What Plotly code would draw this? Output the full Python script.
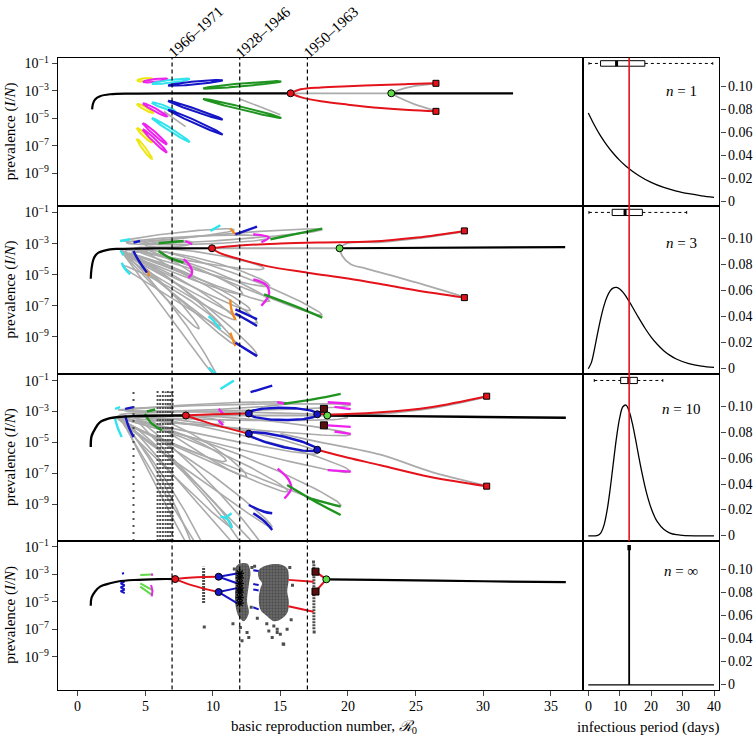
import numpy as np
import plotly.graph_objects as go

W, H = 755, 739
SERIF = "Liberation Serif, DejaVu Serif, serif"

RED = "#e4131b"; DARKRED = "#5a0e0e"; BLUE = "#1515c8"; GREEN = "#1f941f"
LIGHTGREEN = "#5edb45"; CYAN = "#30e3ec"; MAGENTA = "#ee22ee"; YELLOW = "#ede714"
ORANGE = "#f0891f"; GRAY = "#ababab"; POINTS = "#4e4e4e"

# ---------------- axes / labels ----------------
R0_RANGE = [-1.43, 37.39]
DAY_RANGE = [-1.59, 41.68]
LOG_RANGE = [-11.4, -0.57]
DENS_RANGE = [-0.004, 0.125]
R0_TICKS = [0, 5, 10, 15, 20, 25, 30, 35]
DAY_TICKS = [0, 10, 20, 30, 40]
PREV_TICK_EXP = [-1, -3, -5, -7, -9]
DENS_TICKS = [0, 0.02, 0.04, 0.06, 0.08, 0.10]
DENS_LABELS = ["0", "0.02", "0.04", "0.06", "0.08", "0.10"]
ERA_R0 = [7, 12, 17]
ERA_LABELS = ["1966–1971", "1928–1946", "1950–1963"]
N_LABELS = ["1", "3", "10", "∞"]
MEAN_IP = 13.0

# ---------------- right panels: infectious period distributions ----------------
IP_DAYS_N1 = [0, 2, 4, 6, 8, 10, 12, 16, 20, 24, 28, 32, 36, 40]
IP_DENS_N1 = [0.0769, 0.0660, 0.0565, 0.0485, 0.0416, 0.0356, 0.0306, 0.0225, 0.0165,
              0.0121, 0.0089, 0.0066, 0.0048, 0.0035]
IP_DAYS_N3 = [0, 1, 2, 3, 4, 5, 6, 7, 8, 9, 10, 11, 12, 14, 16, 18, 20, 22, 24, 26, 28, 32, 36, 40]
IP_DENS_N3 = [0, 0.0049, 0.0155, 0.0277, 0.0391, 0.0485, 0.0554, 0.0599, 0.0621, 0.0624, 0.0612,
              0.0588, 0.0555, 0.0476, 0.0392, 0.0313, 0.0243, 0.0186, 0.0139, 0.0103, 0.0075,
              0.0039, 0.0020, 0.0010]
IP_DAYS_N10 = [0, 2, 3, 4, 5, 6, 7, 8, 9, 10, 11, 12, 13, 14, 15, 16, 17, 18, 19, 20, 21, 22,
               24, 26, 28, 30, 34, 40]
IP_DENS_N10 = [0, 0.00002, 0.0004, 0.0024, 0.0083, 0.0200, 0.0370, 0.0570, 0.0763, 0.0913,
               0.0997, 0.1010, 0.0962, 0.0870, 0.0750, 0.0620, 0.0496, 0.0385, 0.0290, 0.0213,
               0.0153, 0.0108, 0.0051, 0.0022, 0.0009, 0.0004, 0.00005, 0]
IP_DAYS_NINF = [0, 40]
IP_DENS_NINF = [0, 0]
BOX_Y = 0.12
# min, q1, median, q3, max
BOX_N1 = [0.2, 3.9, 9.0, 18.0, 39.6]
BOX_N3 = [0.2, 7.6, 11.7, 17.2, 31.3]
BOX_N10 = [1.9, 10.3, 12.9, 15.6, 23.7]

# ---------------- panel 1 (n = 1) : R0 vs log10 prevalence ----------------
P1_EQ_X = [1.09, 1.15, 1.31, 1.68, 2.42, 4.0, 8.0, 15.76]
P1_EQ_Y = [-4.35, -3.95, -3.62, -3.38, -3.24, -3.19, -3.17, -3.17]
P1_EQ2_X = [23.2, 32.2]
P1_EQ2_Y = [-3.17, -3.17]
P1_UNS_X = [15.76, 23.2]
P1_UNS_Y = [-3.17, -3.17]
P1_RED_UP_X = [15.76, 16.5, 18.0, 20.0, 22.4, 24.5, 26.5]
P1_RED_UP_Y = [-3.17, -2.88, -2.74, -2.65, -2.57, -2.50, -2.44]
P1_RED_LO_X = [15.76, 16.5, 18.0, 20.0, 22.4, 24.5, 26.5]
P1_RED_LO_Y = [-3.17, -3.45, -3.75, -4.0, -4.25, -4.40, -4.49]
P1_GRAY_UP_X = [23.2, 23.8, 24.8, 26.5]
P1_GRAY_UP_Y = [-3.17, -2.92, -2.66, -2.46]
P1_GRAY_LO_X = [23.2, 23.8, 24.8, 26.5]
P1_GRAY_LO_Y = [-3.17, -3.5, -3.92, -4.46]
P1_DOT_RED = (15.76, -3.17)
P1_DOT_GREEN = (23.2, -3.17)
P1_SQ_X = [26.5, 26.5]
P1_SQ_Y = [-2.44, -4.49]
# thin stable loops: colour, x0, y0, x1, y1
P1_PIECES = [
    ("yellow", 4.40, -2.25, 5.51, -2.11), ("yellow", 4.40, -3.95, 5.60, -4.60),
    ("yellow", 4.40, -5.70, 5.50, -6.75), ("yellow", 4.40, -6.50, 5.50, -7.95),
    ("magenta", 4.84, -2.35, 6.62, -2.12), ("magenta", 4.84, -3.90, 6.62, -4.85),
    ("magenta", 4.84, -5.35, 6.62, -6.90), ("magenta", 4.84, -5.80, 6.62, -7.50),
    ("cyan", 5.51, -2.47, 8.30, -2.12), ("cyan", 5.51, -3.85, 7.20, -4.45),
    ("cyan", 5.51, -4.97, 8.30, -6.73),
    ("blue", 6.70, -2.60, 10.74, -2.22), ("blue", 6.70, -3.72, 10.74, -5.09),
    ("blue", 6.70, -4.37, 10.74, -6.18),
    ("green", 9.29, -2.81, 15.07, -2.30), ("green", 9.29, -3.58, 15.07, -4.97),
]
P1_GRAY_SEGS = [
    ([7.1, 10.08], [-3.77, -4.85]),
    ([12.05, 15.0], [-3.60, -4.74]),
    ([6.4, 8.0], [-4.5, -5.6]),
]

# ---------------- panel 2 (n = 3) ----------------
P2_EQ_X = [0.99, 1.05, 1.19, 1.35, 1.56, 2.0, 2.42, 3.0, 4.15, 7.0, 9.95]
P2_EQ_Y = [-5.26, -4.6, -4.01, -3.75, -3.58, -3.45, -3.37, -3.34, -3.32, -3.31, -3.30]
P2_EQ2_X = [19.38, 36.05]
P2_EQ2_Y = [-3.30, -3.23]
P2_UNS_X = [9.95, 19.38]
P2_UNS_Y = [-3.30, -3.30]
P2_RED_UP_X = [9.95, 12.0, 15.0, 18.0, 21.7, 25.1, 28.6]
P2_RED_UP_Y = [-3.30, -3.12, -3.0, -2.93, -2.87, -2.61, -2.18]
P2_RED_LO_X = [9.95, 10.5, 12.0, 14.0, 17.0, 20.0, 22.4, 25.0, 28.6]
P2_RED_LO_Y = [-3.30, -3.6, -4.0, -4.45, -4.87, -5.25, -5.6, -6.0, -6.48]
P2_GRAY_UP_X = [19.38, 19.95, 22.4, 25.1, 28.6]
P2_GRAY_UP_Y = [-3.30, -2.97, -2.90, -2.66, -2.22]
P2_GRAY_LO_X = [19.38, 19.58, 20.2, 21.4, 25.1, 28.6]
P2_GRAY_LO_Y = [-3.30, -3.8, -4.33, -4.62, -5.52, -6.45]
P2_DOT_RED = (9.95, -3.30)
P2_DOT_GREEN = (19.38, -3.30)
P2_SQ_X = [28.6, 28.6]
P2_SQ_Y = [-2.18, -6.48]
# gray loops: x0, y0, x1, y1, half-width(px), bow(px)
P2_LOOPS = [
    (3.3, -3.5, 10.3, -11.6, 4, 3), (3.4, -3.6, 13.3, -10.2, 5, 3),
    (3.5, -3.6, 13.3, -8.1, 6, 3), (3.6, -3.8, 11.7, -7.9, 5, 2),
    (3.3, -4.4, 10.6, -8.3, 4, 2), (3.8, -3.6, 11.7, -9.5, 5, 3),
    (4.0, -3.55, 14.2, -6.7, 6, 3), (6.0, -3.5, 18.1, -7.6, 5, 2),
    (4.5, -3.45, 14.2, -5.7, 6, 2), (5.0, -3.4, 8.5, -5.0, 3, 0),
    (3.5, -3.45, 12.2, -6.2, 6, 2), (3.4, -2.85, 11.6, -2.1, 3, 0),
    (3.6, -2.95, 14.3, -2.6, 4, 0), (4.6, -3.0, 18.1, -2.1, 3, 0),
    (5.0, -3.1, 8.5, -2.95, 3, 0), (3.2, -3.4, 9.0, -8.5, 4, 2),
    (3.9, -3.7, 12.8, -7.3, 5, 2), (4.2, -3.3, 13.8, -4.6, 5, 1),
]
P2_PIECES = [
    ("cyan", [3.16, 3.9], [-2.83, -2.72]), ("cyan", [3.28, 3.5, 3.9], [-4.23, -4.6, -4.98]),
    ("cyan", [3.2, 3.4], [-3.45, -3.75]), ("cyan", [9.83, 10.57], [-2.18, -1.82]),
    ("cyan", [9.7, 10.1, 10.57], [-7.67, -8.0, -8.53]), ("cyan", [9.7, 10.3], [-11.0, -11.43]),
    ("blue", [4.15, 4.64], [-2.94, -2.83]), ("blue", [4.15, 4.4, 5.14], [-3.47, -3.9, -4.87]),
    ("blue", [11.68, 13.28], [-2.40, -1.90]), ("blue", [11.68, 12.6, 13.28], [-7.24, -7.6, -7.88]),
    ("blue", [11.68, 12.6, 13.28], [-7.5, -7.95, -8.31]), ("blue", [11.68, 13.28], [-9.39, -10.25]),
    ("orange", [11.3, 11.68], [-2.03, -2.40]), ("orange", [5.14, 5.3], [-4.7, -5.09]),
    ("orange", [11.3, 11.4, 11.68], [-6.6, -7.3, -7.9]), ("orange", [11.3, 11.5, 11.68], [-8.74, -9.2, -9.6]),
    ("magenta", [7.98, 8.47], [-2.83, -3.04]), ("magenta", [13.0, 14.15, 13.6], [-2.4, -2.6, -2.9]),
    ("magenta", [7.85, 8.3, 8.47, 8.2], [-4.0, -4.4, -4.9, -5.2]),
    ("magenta", [13.0, 14.0, 14.15, 13.6], [-5.3, -5.7, -6.3, -7.0]),
    ("green", [6.0, 7.85], [-2.98, -2.83]), ("green", [6.0, 6.8, 7.85], [-3.47, -3.9, -4.23]),
    ("green", [14.27, 16.0, 18.1], [-2.72, -2.4, -2.03]), ("green", [13.8, 16.0, 18.1], [-6.27, -7.0, -7.77]),
]

# ---------------- panel 3 (n = 10) ----------------
P3_EQ_X = [0.99, 1.05, 1.31, 1.68, 2.42, 3.0, 4.15, 6.0, 8.02]
P3_EQ_Y = [-5.3, -4.6, -4.12, -3.69, -3.43, -3.36, -3.30, -3.27, -3.26]
P3_EQ2_X = [18.47, 24.0, 30.0, 36.1]
P3_EQ2_Y = [-3.26, -3.30, -3.36, -3.41]
P3_UNS_X = [8.02, 18.47]
P3_UNS_Y = [-3.26, -3.26]
P3_RED_UP1_X = [8.02, 10.0, 12.67]
P3_RED_UP1_Y = [-3.26, -3.18, -3.13]
P3_RED_LO1_X = [8.02, 9.0, 10.3, 12.67]
P3_RED_LO1_Y = [-3.26, -3.55, -3.9, -4.44]
P3_RED_UP2_X = [17.73, 18.7, 22.4, 26.1, 30.25]
P3_RED_UP2_Y = [-3.15, -3.19, -3.05, -2.72, -2.01]
P3_RED_LO2_X = [17.73, 20.0, 22.4, 26.1, 30.25]
P3_RED_LO2_Y = [-5.48, -6.0, -6.48, -7.24, -7.84]
P3_GRAY_UP2_X = [18.5, 22.4, 26.1, 30.25]
P3_GRAY_UP2_Y = [-3.32, -3.15, -2.8, -2.05]
P3_GRAY_LO2_X = [15.0, 18.0, 22.4, 26.1, 30.25]
P3_GRAY_LO2_Y = [-4.44, -5.0, -5.8, -6.9, -7.82]
# blue period-2 loops: x0, y0, x1, y1, half-width(px)
P3_BLUE_LOOPS = [(12.67, -3.13, 17.73, -3.18, 6), (12.67, -4.44, 17.73, -5.48, 5)]
P3_DOT_RED = (8.02, -3.26)
P3_DOT_BLUE_X = [12.67, 17.73, 12.67, 17.73]
P3_DOT_BLUE_Y = [-3.13, -3.18, -4.44, -5.48]
P3_DOT_GREEN = (18.47, -3.26)
P3_SQ_DARK_X = [18.22, 18.22]
P3_SQ_DARK_Y = [-2.83, -3.90]
P3_SQ_X = [30.25, 30.25]
P3_SQ_Y = [-2.01, -7.84]
P3_LOOPS = [
    (2.9, -3.4, 19.5, -9.1, 7, 3), (3.0, -3.5, 15.6, -8.2, 6, 3),
    (3.2, -3.6, 14.4, -10.5, 5, 3), (3.4, -3.8, 11.45, -10.5, 5, 2),
    (3.0, -3.3, 20.2, -6.9, 7, 3), (3.5, -3.3, 20.2, -4.5, 5, 2),
    (3.0, -2.9, 20.2, -2.6, 3, 0), (3.5, -2.95, 15.6, -2.45, 3, 0),
    (3.6, -4.0, 9.8, -12.8, 4, 2), (3.8, -4.2, 8.6, -12.2, 4, 2),
    (4.0, -3.9, 12.8, -12.6, 5, 3), (4.5, -3.6, 14.0, -12.2, 5, 3),
    (5.0, -3.4, 10.8, -3.7, 4, 0), (4.2, -3.4, 17.8, -5.7, 6, 2),
    (5.2, -3.3, 12.5, -7.2, 6, 2), (3.3, -3.5, 11.0, -6.2, 6, 2),
    (3.1, -3.2, 20.0, -3.4, 4, 0),
]
P3_PIECES = [
    ("cyan", [2.79, 3.16], [-2.83, -2.72]), ("cyan", [2.79, 3.0, 3.28], [-3.47, -4.1, -4.66]),
    ("cyan", [10.57, 11.56], [-1.54, -1.0]), ("cyan", [10.57, 11.1, 11.4], [-9.8, -10.0, -10.57]),
    ("cyan", [10.9, 11.4], [-9.9, -9.6]),
    ("blue", [3.53, 4.15], [-2.83, -2.72]), ("blue", [3.53, 3.8, 4.15], [-3.26, -4.0, -4.66]),
    ("blue", [12.8, 14.4], [-1.75, -1.32]), ("blue", [12.67, 13.8, 14.4], [-9.06, -9.5, -9.6]),
    ("blue", [13.0, 13.8, 14.4], [-9.6, -10.1, -10.68]),
    ("green", [5.14, 5.75], [-3.0, -2.87]), ("green", [5.0, 5.4, 6.25], [-3.15, -3.7, -4.23]),
    ("green", [15.26, 17.5, 19.46], [-2.5, -2.2, -1.86]), ("green", [15.5, 17.5, 19.46], [-7.77, -8.8, -9.71]),
    ("green", [17.0, 19.46], [-8.6, -9.17]),
    ("magenta", [10.44, 10.77], [-2.83, -3.15]), ("magenta", [10.44, 10.77], [-3.58, -3.9]),
    ("magenta", [14.77, 15.39], [-2.4, -2.5]), ("magenta", [18.5, 20.2], [-2.4, -2.5]),
    ("magenta", [19.0, 20.2], [-2.7, -2.85]), ("magenta", [18.5, 20.2], [-3.9, -4.0]),
    ("magenta", [19.0, 20.2], [-4.3, -4.45]), ("magenta", [18.5, 20.2], [-6.8, -6.9]),
    ("magenta", [14.8, 15.6, 15.8, 15.3], [-6.7, -7.4, -8.0, -8.64]),
]
# stochastic-simulation columns: R0, lowest log10 prevalence, highest log10 prevalence
P3_COLUMNS = [(4.15, -11.4, -1.55), (5.93, -11.4, -1.6), (6.12, -11.4, -1.9), (6.32, -11.4, -1.6),
              (6.52, -11.4, -1.7), (6.69, -11.4, -1.6), (6.86, -11.4, -1.7), (7.04, -11.4, -1.55)]

# ---------------- panel 4 (n = infinity) ----------------
P4_EQ_X = [0.99, 1.05, 1.31, 1.68, 2.42, 3.0, 4.15, 6.0, 7.23]
P4_EQ_Y = [-5.28, -4.7, -4.25, -3.89, -3.65, -3.52, -3.41, -3.34, -3.34]
P4_EQ2_X = [18.4, 22.0, 30.0, 36.1]
P4_EQ2_Y = [-3.36, -3.40, -3.50, -3.57]
P4_RED = [([7.23, 8.5, 10.44], [-3.34, -3.22, -3.17]), ([7.23, 8.5, 10.44], [-3.34, -3.8, -4.29]),
          ([15.6, 17.45], [-3.4, -3.53]), ([15.6, 17.45], [-5.33, -5.73]),
          ([17.6, 18.4], [-2.8, -3.36]), ([17.6, 18.4], [-4.25, -3.36])]
P4_BLUE = [([10.44, 11.8], [-3.17, -2.93]), ([10.44, 11.8], [-3.17, -3.65]),
           ([10.44, 11.8], [-4.29, -4.0]), ([10.44, 11.8], [-4.29, -5.1]),
           ([13.0, 13.4], [-2.7, -2.75]), ([13.0, 13.4], [-3.7, -3.78]),
           ([13.0, 13.4], [-4.1, -4.17]), ([13.0, 13.4], [-5.4, -5.55]),
           ([3.3, 3.45], [-2.95, -2.9]), ([3.5, 3.2, 3.5], [-3.5, -3.65, -3.8]),
           ([3.5, 3.2, 3.5], [-3.8, -3.95, -4.1]), ([3.5, 3.2, 3.5], [-4.1, -4.22, -4.37])]
P4_GREEN = [([4.65, 5.51], [-3.05, -3.0]), ([4.65, 5.51], [-3.65, -4.13]), ([4.65, 5.51], [-3.89, -4.49])]
P4_MAGENTA = [([5.5, 5.55], [-2.93, -3.1]), ([5.45, 5.55, 5.5], [-3.77, -4.2, -4.6])]
P4_DOT_RED = (7.23, -3.34)
P4_DOT_BLUE_X = [10.44, 10.44]
P4_DOT_BLUE_Y = [-3.17, -4.29]
P4_DOT_GREEN = (18.4, -3.36)
P4_SQ_DARK_X = [17.6, 17.6]
P4_SQ_DARK_Y = [-2.8, -4.25]
P4_BLOB_X = [13.4, 14.02, 15.01, 15.51, 15.63, 15.51, 15.63, 15.51, 15.01, 14.52, 14.02, 13.53, 13.41, 13.53, 13.65, 13.41]
P4_BLOB_Y = [-2.69, -2.33, -2.28, -2.57, -3.29, -4.25, -4.97, -5.81, -6.29, -6.41, -6.05, -5.57, -4.73, -4.0, -3.65, -3.29]
P4_BLOB12_X = [11.80, 12.54, 12.79, 12.67, 12.54, 12.67, 12.30, 11.92, 11.68, 11.68]
P4_BLOB12_Y = [-2.33, -2.21, -2.81, -3.77, -4.97, -5.81, -6.41, -6.05, -5.21, -3.77]
P4_PTS_X = [14.52, 14.77, 14.4, 15.21, 15.0, 15.5, 14.15, 14.77, 15.25, 12.05, 12.54, 12.17, 12.67,
            9.38, 13.1, 15.7, 15.8, 13.3, 12.9, 11.6, 12.85, 11.5, 15.9, 14.0, 17.5, 17.45]
P4_PTS_Y = [-6.77, -7.0, -7.6, -8.08, -7.36, -7.0, -7.12, -7.24, -8.1, -6.88, -7.24, -7.84, -7.6,
            -6.84, -2.4, -2.5, -6.3, -6.2, -2.5, -2.6, -5.4, -6.6, -3.8, -6.6, -7.2, -2.1]
P4_STAR_X = [12.0, 12.0, 12.0, 12.0, 12.0, 12.0, 12.0]
P4_STAR_Y = [-2.93, -3.25, -3.65, -4.0, -4.3, -4.7, -5.1]
P4_COLUMNS = [(9.33, -5.09, -2.45), (17.48, -7.0, -2.21)]

# ---------------- geometry of the page ----------------
PANEL_TOP = [54, 203, 372, 540]
PANEL_BOT = [203, 372, 540, 689.3]
LEFT_PX = (58, 583.3)
RIGHT_PX = (583.3, 719.3)
SX, SY = 13.5, 15.0  # approx px per unit (R0, decade) used to shape thin loops

COLORS = {"yellow": YELLOW, "magenta": MAGENTA, "cyan": CYAN, "blue": BLUE,
          "green": GREEN, "orange": ORANGE}

fig = go.Figure()


def axn(k):
    return ("x" if k == 1 else f"x{k}"), ("y" if k == 1 else f"y{k}")


def loop(x0, y0, x1, y1, w, bow=0.0, ellipse=False, n=48):
    ax, ay, bx, by = x0 * SX, y0 * SY, x1 * SX, y1 * SY
    dx, dy = bx - ax, by - ay
    L = np.hypot(dx, dy)
    nx, ny = -dy / L, dx / L
    t = np.linspace(0, 1, n)
    s = np.sin(np.pi * t)
    cx = ax + dx * t + bow * s * nx
    cy = ay + dy * t + bow * s * ny
    if ellipse:
        prof = w * 2 * np.sqrt(np.clip(t * (1 - t), 0, None))
    else:
        prof = w * (t ** 0.6) * np.sqrt(np.clip(1 - t, 0, None)) / 0.469
    xs = np.concatenate([cx + prof * nx, (cx - prof * nx)[::-1]]) / SX
    ys = np.concatenate([cy + prof * ny, (cy - prof * ny)[::-1]]) / SY
    return list(xs), list(ys)


def lines(k, paths, color, width, shape="spline", dash=None, log=True):
    xa, ya = axn(k)
    X, Y = [], []
    for xs, ys in paths:
        X += list(xs) + [None]
        Y += [(10 ** v if log else v) for v in ys] + [None]
    fig.add_trace(go.Scatter(x=X, y=Y, mode="lines", xaxis=xa, yaxis=ya, hoverinfo="skip",
                             line=dict(color=color, width=width, shape=shape, dash=dash)))


def markers(k, xs, ys, symbol, fill, size=7, lw=1, lc="black"):
    xa, ya = axn(k)
    fig.add_trace(go.Scatter(x=list(xs), y=[10 ** v for v in ys], mode="markers", xaxis=xa, yaxis=ya,
                             hoverinfo="skip",
                             marker=dict(symbol=symbol, color=fill, size=size, line=dict(color=lc, width=lw))))


def columns(k, cols, width=2.2, dash="dot"):
    for x, lo, hi in cols:
        lines(k, [([x, x], [lo, hi])], POINTS, width, shape="linear", dash=dash)


def pieces(k, plist, width=2.4):
    for cname in ["cyan", "orange", "blue", "magenta", "green", "yellow"]:
        ps = [(xs, ys) for c, xs, ys in plist if c == cname]
        if ps:
            lines(k, ps, COLORS[cname], width)


def gray_loops(k, lst):
    lines(k, [loop(*l[:4], l[4], l[5]) for l in lst], GRAY, 1.6, shape="linear")


# ===== panel 1 =====
k = 1
lines(k, P1_GRAY_SEGS, GRAY, 1.6)
for c, x0, y0, x1, y1 in P1_PIECES:
    lines(k, [loop(x0, y0, x1, y1, 1.6, 0, ellipse=True)], COLORS[c], 2.0, shape="linear")
lines(k, [(P1_UNS_X, P1_UNS_Y), (P1_GRAY_UP_X, P1_GRAY_UP_Y), (P1_GRAY_LO_X, P1_GRAY_LO_Y)], GRAY, 1.8)
lines(k, [(P1_EQ_X, P1_EQ_Y), (P1_EQ2_X, P1_EQ2_Y)], "black", 2.2)
lines(k, [(P1_RED_UP_X, P1_RED_UP_Y), (P1_RED_LO_X, P1_RED_LO_Y)], RED, 2.0)
markers(k, P1_SQ_X, P1_SQ_Y, "square", RED, 6)
markers(k, [P1_DOT_RED[0]], [P1_DOT_RED[1]], "circle", RED, 7)
markers(k, [P1_DOT_GREEN[0]], [P1_DOT_GREEN[1]], "circle", LIGHTGREEN, 7)

# ===== panel 2 =====
k = 3
gray_loops(k, P2_LOOPS)
pieces(k, P2_PIECES)
lines(k, [(P2_UNS_X, P2_UNS_Y), (P2_GRAY_UP_X, P2_GRAY_UP_Y), (P2_GRAY_LO_X, P2_GRAY_LO_Y)], GRAY, 1.8)
lines(k, [(P2_EQ_X, P2_EQ_Y), (P2_EQ2_X, P2_EQ2_Y)], "black", 2.2)
lines(k, [(P2_RED_UP_X, P2_RED_UP_Y), (P2_RED_LO_X, P2_RED_LO_Y)], RED, 2.0)
markers(k, P2_SQ_X, P2_SQ_Y, "square", RED, 6)
markers(k, [P2_DOT_RED[0]], [P2_DOT_RED[1]], "circle", RED, 7)
markers(k, [P2_DOT_GREEN[0]], [P2_DOT_GREEN[1]], "circle", LIGHTGREEN, 7)

# ===== panel 3 =====
k = 5
gray_loops(k, P3_LOOPS)
lines(k, [(P3_GRAY_UP2_X, P3_GRAY_UP2_Y), (P3_GRAY_LO2_X, P3_GRAY_LO2_Y), (P3_UNS_X, P3_UNS_Y)], GRAY, 1.8)
columns(k, P3_COLUMNS[:1], 2.0, dash="2px,5px")
columns(k, P3_COLUMNS[1:], 2.0, dash="2px,2px")
pieces(k, P3_PIECES)
lines(k, [(P3_EQ_X, P3_EQ_Y), (P3_EQ2_X, P3_EQ2_Y)], "black", 2.4)
lines(k, [(P3_RED_UP1_X, P3_RED_UP1_Y), (P3_RED_LO1_X, P3_RED_LO1_Y),
          (P3_RED_UP2_X, P3_RED_UP2_Y), (P3_RED_LO2_X, P3_RED_LO2_Y)], RED, 2.0)
lines(k, [loop(*b[:4], b[4], 0, ellipse=True) for b in P3_BLUE_LOOPS], BLUE, 2.4, shape="linear")
markers(k, P3_SQ_X, P3_SQ_Y, "square", RED, 6)
markers(k, P3_SQ_DARK_X, P3_SQ_DARK_Y, "square", DARKRED, 7)
markers(k, [P3_DOT_RED[0]], [P3_DOT_RED[1]], "circle", RED, 7)
markers(k, P3_DOT_BLUE_X, P3_DOT_BLUE_Y, "circle", BLUE, 7)
markers(k, [P3_DOT_GREEN[0]], [P3_DOT_GREEN[1]], "circle", LIGHTGREEN, 7)

# ===== panel 4 =====
k = 7
for bx, by in [(P4_BLOB_X, P4_BLOB_Y), (P4_BLOB12_X, P4_BLOB12_Y)]:
    fig.add_trace(go.Scatter(x=bx + bx[:1], y=[10 ** v for v in by + by[:1]], mode="lines",
                             fill="toself", fillcolor="rgba(75,75,75,0.8)", xaxis="x7", yaxis="y7",
                             hoverinfo="skip", line=dict(width=0, shape="spline"),
                             fillpattern=dict(shape=".", fgcolor="#2e2e2e", size=3, solidity=0.5)))
columns(k, P4_COLUMNS, 3.0, dash="2px,1px")
markers(k, P4_PTS_X, P4_PTS_Y, "square", POINTS, 3, 0)
lines(k, P4_GREEN, LIGHTGREEN, 2.0, shape="linear")
lines(k, P4_MAGENTA, MAGENTA, 2.0, shape="linear")
lines(k, P4_BLUE, BLUE, 2.0, shape="linear")
fig.add_trace(go.Scatter(x=P4_STAR_X, y=[10 ** v for v in P4_STAR_Y], mode="markers", xaxis="x7",
                         yaxis="y7", hoverinfo="skip",
                         marker=dict(symbol="asterisk-open", size=7, color="black",
                                     line=dict(color="black", width=1.2))))
lines(k, [(P4_EQ_X, P4_EQ_Y), (P4_EQ2_X, P4_EQ2_Y)], "black", 2.2)
lines(k, P4_RED, RED, 2.0)
markers(k, P4_SQ_DARK_X, P4_SQ_DARK_Y, "square", DARKRED, 7)
markers(k, [P4_DOT_RED[0]], [P4_DOT_RED[1]], "circle", RED, 7)
markers(k, P4_DOT_BLUE_X, P4_DOT_BLUE_Y, "circle", BLUE, 7)
markers(k, [P4_DOT_GREEN[0]], [P4_DOT_GREEN[1]], "circle", LIGHTGREEN, 7)

# ===== right panels =====
dens = [(IP_DAYS_N1, IP_DENS_N1), (IP_DAYS_N3, IP_DENS_N3), (IP_DAYS_N10, IP_DENS_N10),
        (IP_DAYS_NINF, IP_DENS_NINF)]
boxes = [BOX_N1, BOX_N3, BOX_N10, None]
for r in range(4):
    k = 2 * r + 2
    dx, dyv = dens[r]
    lines(k, [(dx, dyv)], "black", 1.3, shape="spline", log=False)
    b = boxes[r]
    if b is not None:
        mn, q1, md, q3, mx = b
        hb, hc = 0.0024, 0.0011
        lines(k, [([mn, q1], [BOX_Y, BOX_Y]), ([q3, mx], [BOX_Y, BOX_Y])], "black", 1.0,
              shape="linear", dash="3px,3px", log=False)
        lines(k, [([mn, mn], [BOX_Y - hc, BOX_Y + hc]), ([mx, mx], [BOX_Y - hc, BOX_Y + hc]),
                  ([q1, q3, q3, q1, q1], [BOX_Y - hb, BOX_Y - hb, BOX_Y + hb, BOX_Y + hb, BOX_Y - hb])],
              "black", 1.0, shape="linear", log=False)
        lines(k, [([md, md], [BOX_Y - hb, BOX_Y + hb])], "black", 3.0, shape="linear", log=False)
    else:
        lines(k, [([MEAN_IP, MEAN_IP], [0, BOX_Y])], "black", 1.8, shape="linear", log=False)
        lines(k, [([MEAN_IP, MEAN_IP], [BOX_Y - 0.003, BOX_Y + 0.0015])], "black", 3.5,
              shape="linear", log=False)

# ---------------- layout ----------------
layout = dict(width=W, height=H, margin=dict(l=0, r=0, t=0, b=0), paper_bgcolor="white",
              plot_bgcolor="white", showlegend=False,
              font=dict(family=SERIF, size=14, color="black"))
tickfont = dict(family=SERIF, size=14, color="black")
for r in range(4):
    ydom = [1 - PANEL_BOT[r] / H, 1 - PANEL_TOP[r] / H]
    bottom = (r == 3)
    for side in (0, 1):
        k = 2 * r + 1 + side
        xn = "xaxis" if k == 1 else f"xaxis{k}"
        yn = "yaxis" if k == 1 else f"yaxis{k}"
        xa, ya = axn(k)
        px0, px1 = (LEFT_PX if side == 0 else RIGHT_PX)
        layout[xn] = dict(domain=[px0 / W, px1 / W], anchor=ya,
                          range=(R0_RANGE if side == 0 else DAY_RANGE),
                          showline=True, mirror=True, linecolor="black", linewidth=1.2,
                          showgrid=False, zeroline=False, ticks=("outside" if bottom else ""),
                          ticklen=5, tickwidth=1, showticklabels=False,
                          tickvals=(R0_TICKS if side == 0 else DAY_TICKS))
        if side == 0:
            layout[yn] = dict(domain=ydom, anchor=xa, type="log", range=LOG_RANGE,
                              showline=True, mirror=True, linecolor="black", linewidth=1.4,
                              showgrid=False, zeroline=False, ticks="outside", ticklen=5, tickwidth=1,
                              tickvals=[10 ** e for e in PREV_TICK_EXP],
                              ticktext=[f"10<sup>−{-e}</sup>" for e in PREV_TICK_EXP],
                              tickfont=tickfont)
        else:
            layout[yn] = dict(domain=ydom, anchor=xa, side="right", range=DENS_RANGE,
                              showline=True, mirror=True, linecolor="black", linewidth=1.4,
                              showgrid=False, zeroline=False, ticks="outside", ticklen=5, tickwidth=1,
                              tickvals=DENS_TICKS, showticklabels=False)

shapes = []
for xv in ERA_R0:
    shapes.append(dict(type="line", xref="x", yref="paper", x0=xv, x1=xv,
                       y0=1 - PANEL_BOT[3] / H, y1=1 - PANEL_TOP[0] / H,
                       line=dict(color="black", width=1.2, dash="4px,3px")))
shapes.append(dict(type="line", xref="x2", yref="paper", x0=MEAN_IP, x1=MEAN_IP,
                   y0=1 - PANEL_BOT[2] / H, y1=1 - PANEL_TOP[0] / H,
                   line=dict(color=RED, width=1.6)))
layout["shapes"] = shapes

ann = []
# tick labels drawn as annotations for exact placement
for v in R0_TICKS:
    ann.append(dict(text=str(v), xref="x7", yref="paper", x=v, y=1 - 706 / H, showarrow=False,
                    xanchor="center", yanchor="middle", font=tickfont))
for v in DAY_TICKS:
    ann.append(dict(text=str(v), xref="x8", yref="paper", x=v, y=1 - 706 / H, showarrow=False,
                    xanchor="center", yanchor="middle", font=tickfont))
for r in range(4):
    k = 2 * r + 2
    for v, lab in zip(DENS_TICKS, DENS_LABELS):
        ann.append(dict(text=lab, xref="paper", yref=f"y{k}", x=726 / W, y=v, showarrow=False,
                        xanchor="left", yanchor="middle", font=tickfont))
for xv, lab in zip(ERA_R0, ERA_LABELS):
    ann.append(dict(text=lab, xref="x", yref="paper", x=xv + 1.75, y=1 - 28 / H, showarrow=False,
                    textangle=-42, xanchor="center", yanchor="middle",
                    font=dict(family=SERIF, size=15, color="black")))
for r in range(4):
    yc = 1 - (PANEL_TOP[r] + PANEL_BOT[r]) / 2 / H
    ann.append(dict(text="prevalence (<i>I</i>/<i>N</i>)", xref="paper", yref="paper", x=10.5 / W, y=yc,
                    showarrow=False, textangle=-90, xanchor="center", yanchor="middle",
                    font=dict(family=SERIF, size=15, color="black")))
N_LABEL_Y = [87, 240, 407, 570]
for r in range(4):
    ann.append(dict(text=f"<i>n</i> = {N_LABELS[r]}", xref="paper", yref="paper", x=681 / W,
                    y=1 - N_LABEL_Y[r] / H, showarrow=False, xanchor="center", yanchor="middle",
                    font=dict(family=SERIF, size=15, color="black")))
ann.append(dict(text="basic reproduction number, <i>ℛ</i><sub>0</sub>", xref="paper", yref="paper",
                x=324 / W, y=1 - 727 / H, showarrow=False, xanchor="center", yanchor="middle",
                font=dict(family=SERIF, size=15, color="black")))
ann.append(dict(text="infectious period (days)", xref="paper", yref="paper", x=648 / W, y=1 - 727 / H,
                showarrow=False, xanchor="center", yanchor="middle",
                font=dict(family=SERIF, size=15, color="black")))
layout["annotations"] = ann

fig.update_layout(**layout)
fig.write_html("out.html", config={"displayModeBar": False},
               post_script="document.body.style.margin='0';document.body.style.padding='0';"
                           "document.body.style.overflow='hidden';")
